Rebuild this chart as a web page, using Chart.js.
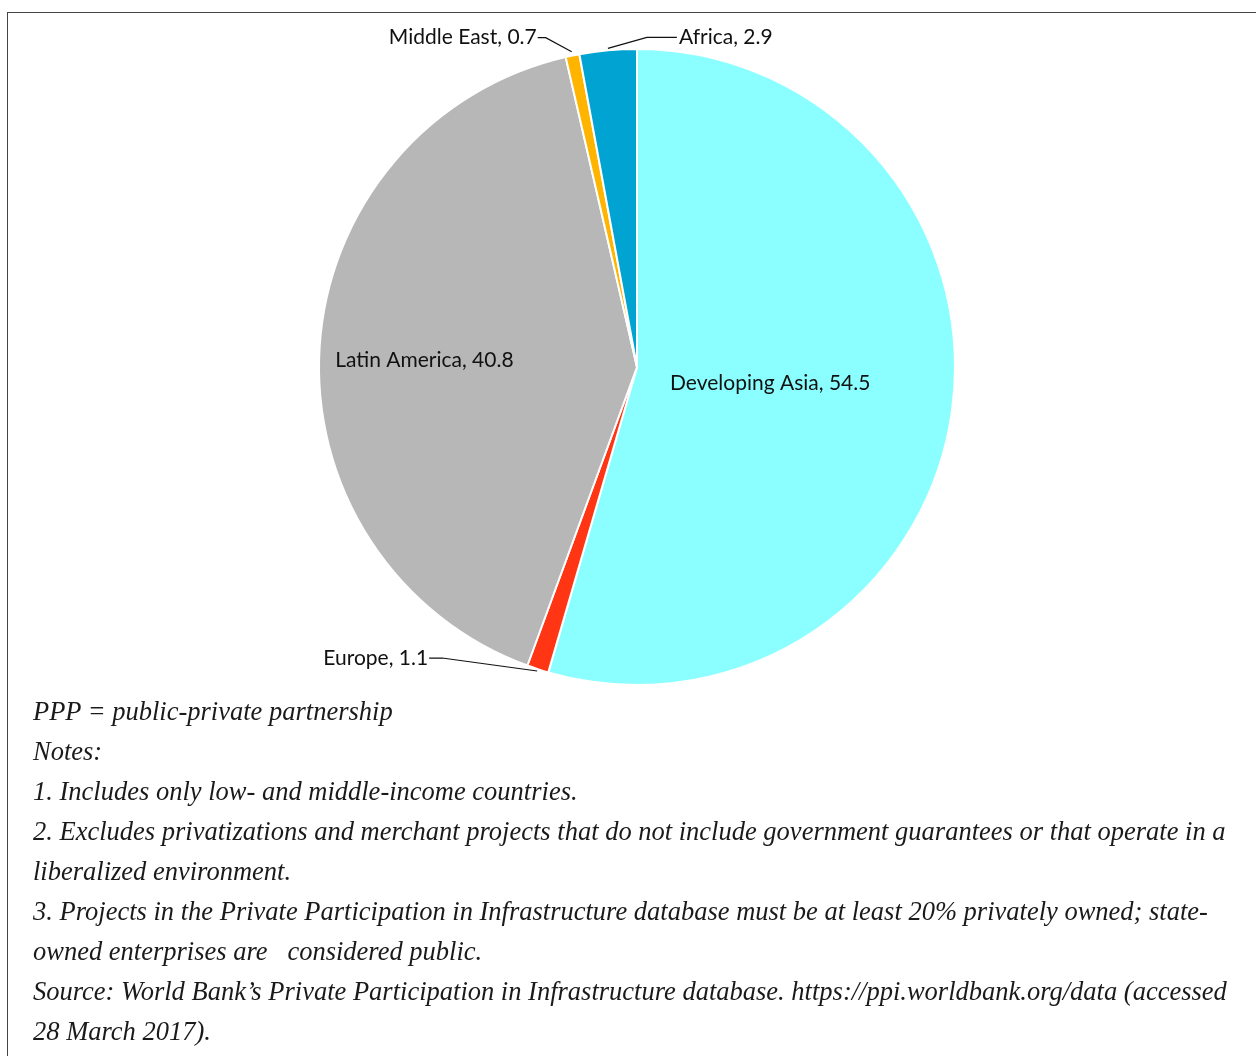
<!DOCTYPE html>
<html>
<head>
<meta charset="utf-8">
<script src="https://cdn.jsdelivr.net/npm/chart.js@4"></script>
<style>
    html, body {
        margin: 0;
        padding: 0;
        background: #fff;
        width: 1256px;
        height: 1056px;
        overflow: hidden;
        position: relative;
    }
    .frame {
        position: absolute;
        left: 7px;
        top: 12px;
        width: 1300px;
        height: 1100px;
        border: 1.5px solid #444;
        box-sizing: border-box;
    }
    .chart-box {
        position: absolute;
        left: 0;
        top: 0;
        width: 1256px;
        height: 700px;
    }
    .notes {
        position: absolute;
        left: 33px;
        top: 691px;
        font-family: "Times New Roman", "Liberation Serif", serif;
        font-style: italic;
        font-size: 26.5px;
        line-height: 40px;
        color: #1a1a1a;
        white-space: pre;
    }
</style>
</head>
<body>
<div class="frame"></div>
<div class="chart-box"><canvas id="pieChart"></canvas></div>
<div class="notes">PPP = public-private partnership
Notes:
1. Includes only low- and middle-income countries.
2. Excludes privatizations and merchant projects that do not include government guarantees or that operate in a
liberalized environment.
3. Projects in the Private Participation in Infrastructure database must be at least 20% privately owned; state-
owned enterprises are   considered public.
Source: World Bank’s Private Participation in Infrastructure database. https://ppi.worldbank.org/data (accessed
28 March 2017).</div>

<script>
// Share of PPP investment by region (%)
const regions = ['Developing Asia', 'Europe', 'Latin America', 'Middle East', 'Africa'];
const shares = [54.5, 1.1, 40.8, 0.7, 2.9];
const sliceColors = ['#8bffff', '#ff3514', '#b7b7b7', '#ffb400', '#00a3d2'];

// How each label is placed relative to its slice
const labelPlacement = [
    { inside: true, frac: 0.42, dx: 1, dy: -3 },
    { inside: false, pad: 2, elbow: [-95, -13], run: -13, align: 'right' },
    { inside: true, frac: 0.67, dx: 0, dy: 7 },
    { inside: false, pad: 4, elbow: [-26, -14], run: -8, align: 'right' },
    { inside: false, pad: 2, elbow: [39, -11], run: 30, align: 'left' }
];

/**
 * Draws "Region, value" labels with leader lines for the thin slices
 */
const sliceLabels = {
    id: 'sliceLabels',
    afterDatasetsDraw(chart) {
        const ctx = chart.ctx;
        const arcs = chart.getDatasetMeta(0).data;
        ctx.save();
        ctx.font = '21px Lato, "Noto Sans", sans-serif';
        ctx.fillStyle = '#111';
        ctx.strokeStyle = '#111';
        ctx.lineWidth = 1.2;
        ctx.textBaseline = 'middle';

        arcs.forEach((arc, i) => {
            const p = arc.getProps(['x', 'y', 'startAngle', 'endAngle', 'outerRadius'], true);
            const mid = (p.startAngle + p.endAngle) / 2;
            const text = regions[i] + ', ' + shares[i];
            const place = labelPlacement[i];

            if (place.inside) {
                const r = p.outerRadius * place.frac;
                ctx.textAlign = 'center';
                ctx.fillText(text, p.x + Math.cos(mid) * r + place.dx, p.y + Math.sin(mid) * r + place.dy);
                return;
            }

            const r = p.outerRadius + place.pad;
            const ax = p.x + Math.cos(mid) * r;
            const ay = p.y + Math.sin(mid) * r;
            const ex = ax + place.elbow[0];
            const ey = ay + place.elbow[1];
            const tx = ex + place.run;

            ctx.beginPath();
            ctx.moveTo(ax, ay);
            ctx.lineTo(ex, ey);
            ctx.lineTo(tx, ey);
            ctx.stroke();

            ctx.textAlign = place.align;
            ctx.fillText(text, tx + (place.align === 'left' ? 2 : -1), ey);
        });
        ctx.restore();
    }
};

document.addEventListener('DOMContentLoaded', () => {
    const ctx = document.getElementById('pieChart').getContext('2d');
    new Chart(ctx, {
        type: 'pie',
        data: {
            labels: regions,
            datasets: [{
                data: shares,
                backgroundColor: sliceColors,
                borderColor: '#ffffff',
                borderWidth: 2
            }]
        },
        options: {
            responsive: true,
            maintainAspectRatio: false,
            animation: false,
            events: [],
            layout: {
                padding: { left: 318, top: 48, right: 300, bottom: 14 }
            },
            plugins: {
                legend: { display: false },
                tooltip: { enabled: false }
            }
        },
        plugins: [sliceLabels]
    });
});
</script>
</body>
</html>
